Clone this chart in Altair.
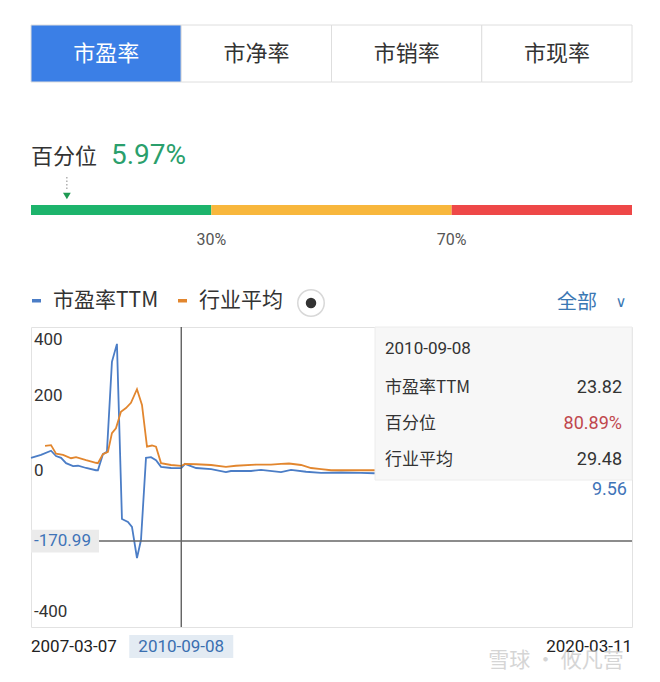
import altair as alt
import pandas as pd

CJK = "Noto Sans CJK SC"
NUM = "Roboto"

# ---------------- data ----------------
tabs = ["市盈率", "市净率", "市销率", "市现率"]
active_tab = "市盈率"

pct_label = "百分位"
pct_value = 5.97
seg_start = [0, 30, 70]
seg_end = [30, 70, 100]
seg_color = ["#1db46c", "#f8b73c", "#ee4848"]
seg_ticks = [30, 70]

series_names = ["市盈率TTM", "行业平均"]
series_colors = ["#4b7dc6", "#e2862e"]
range_label = "全部"

# trading-day index (0 .. 3000) and values
blue_idx = [0, 50, 100, 125, 150, 175, 210, 235, 275, 324, 334, 359, 379, 404, 429,
            454, 484, 504, 529, 549, 574, 599, 624, 649, 699, 750, 769, 824, 899, 973,
            998, 1098, 1148, 1248, 1298, 1373, 1448, 1548, 1647, 1712, 1847, 1997, 2147,
            2296, 2446, 2596, 2745, 2895, 3000]
blue_vals = [51, 59, 70, 56, 51, 37, 29, 30, 24, 18, 18, 61, 67, 307, 355,
             -112, -120, -133, -216, -168, 51, 53, 45, 27, 24, 23.82, 35, 24, 21, 13,
             16, 16, 19, 13, 19, 14, 11, 12, 11, 10, 11, 10, 11,
             10, 10, 9, 10, 9, 9.56]
orange_idx = [70, 100, 125, 160, 200, 225, 275, 324, 334, 359, 384, 404, 424, 449, 474,
              499, 529, 554, 579, 604, 624, 649, 699, 750, 769, 824, 899, 973, 1023, 1123,
              1198, 1248, 1288, 1348, 1398, 1448, 1498, 1597, 1712, 1847, 2097, 2346, 2596,
              2845, 3000]
orange_vals = [83, 85, 62, 59, 50, 53, 45, 38, 37, 61, 67, 117, 130, 174, 184,
               198, 234, 192, 81, 84, 81, 37, 32, 29.48, 35, 34, 32, 27, 30, 33,
               33, 35, 36, 32, 24, 21, 18, 18, 18, 17, 16, 17, 16,
               16, 16]

y_ticks = [-400, -200, 0, 200, 400]
x_grid = [0, 750, 1500, 2250, 3000]
x_dates = ["2007-03-07", "2010-09-08", "2020-03-11"]
x_date_idx = [0, 750, 3000]

cross_idx = 750
cross_date = "2010-09-08"
cross_y = -170.99
cross_pct = "80.89%"
cross_pe = blue_vals[blue_idx.index(cross_idx)]
cross_ind = orange_vals[orange_idx.index(cross_idx)]
last_pe = blue_vals[-1]
watermark = "雪球 · 攸凡营"

W = 601

# ---------------- panel 1: tabs ----------------
tab_df = pd.DataFrame({
    "tab": tabs,
    "fill": ["#3b7fe6" if t == active_tab else "#ffffff" for t in tabs],
    "tc": ["#ffffff" if t == active_tab else "#333333" for t in tabs],
})
tx = alt.X("tab:N", sort=tabs, axis=None, scale=alt.Scale(paddingInner=0, paddingOuter=0))
p1 = alt.layer(
    alt.Chart(tab_df).mark_rect(stroke="#dedede", strokeWidth=1).encode(
        x=tx, fill=alt.Fill("fill:N", scale=None)),
    alt.Chart(tab_df).mark_text(font=CJK, fontSize=22, baseline="middle").encode(
        x=tx, y=alt.value(28.5), text="tab:N", color=alt.Color("tc:N", scale=None)),
).properties(width=W, height=57)

# ---------------- panel 2: percentile bar ----------------
pscale = alt.Scale(domain=[0, 100])
seg_df = pd.DataFrame({"s": seg_start, "e": seg_end, "c": seg_color})
tick_df = pd.DataFrame({"p": seg_ticks, "t": [f"{v}%" for v in seg_ticks]})
mk_df = pd.DataFrame({"p": [pct_value], "lbl": [pct_label], "val": [f"{pct_value:.2f}%"]})

p2 = alt.layer(
    alt.Chart(mk_df).mark_text(font=CJK, fontSize=22, align="left", baseline="middle",
                               color="#333333").encode(
        x=alt.value(0), y=alt.value(75), text="lbl:N"),
    alt.Chart(mk_df).mark_text(font=NUM, fontSize=28, align="left", baseline="middle",
                               color="#2a9f6c").encode(
        x=alt.value(80), y=alt.value(74), text="val:N"),
    alt.Chart(mk_df).mark_rule(strokeDash=[1.5, 2], color="#888888", strokeWidth=1).encode(
        x=alt.X("p:Q", scale=pscale, axis=None), y=alt.value(95), y2=alt.value(107)),
    alt.Chart(mk_df).mark_point(shape="triangle-down", filled=True, color="#1e9a52",
                                size=60, opacity=1).encode(
        x=alt.X("p:Q", scale=pscale, axis=None), y=alt.value(114)),
    alt.Chart(seg_df).mark_rect().encode(
        x=alt.X("s:Q", scale=pscale, axis=None), x2="e:Q",
        y=alt.value(123), y2=alt.value(133), fill=alt.Fill("c:N", scale=None)),
    alt.Chart(tick_df).mark_text(font=NUM, fontSize=16, color="#555555", baseline="middle").encode(
        x=alt.X("p:Q", scale=pscale, axis=None), y=alt.value(158), text="t:N"),
).properties(width=W, height=245)

# ---------------- panel 3: main line chart ----------------
line_df = pd.DataFrame({
    "idx": blue_idx + orange_idx,
    "val": blue_vals + orange_vals,
    "series": [series_names[0]] * len(blue_idx) + [series_names[1]] * len(orange_idx),
})
xs = alt.Scale(domain=[0, 3000], nice=False)
ys = alt.Scale(domain=[-400, 400], nice=False)
X = alt.X("idx:Q", scale=xs, axis=alt.Axis(values=x_grid, grid=True, gridColor="#e6e6e6",
                                            labels=False, ticks=False, domain=False, title=None))
Y = alt.Y("val:Q", scale=ys, axis=alt.Axis(values=y_ticks, grid=True, gridColor="#e6e6e6",
                                            labels=False, ticks=False, domain=False, title=None))

lines = alt.Chart(line_df).mark_line(strokeWidth=1.8, interpolate="linear").encode(
    x=X, y=Y,
    color=alt.Color("series:N", sort=series_names,
                    scale=alt.Scale(domain=series_names, range=series_colors),
                    legend=alt.Legend(orient="none", legendX=-5, legendY=-37, direction="horizontal",
                                      title=None, symbolType="stroke", symbolStrokeWidth=3.5,
                                      symbolSize=81, labelFontSize=21, labelFont=CJK,
                                      labelColor="#333333", labelOffset=6, columnPadding=12,
                                      padding=0)),
    detail="series:N",
)

xq = lambda f: alt.X(f, scale=xs, axis=None)
yq = lambda f: alt.Y(f, scale=ys, axis=None)

cross_df = pd.DataFrame({"idx": [cross_idx], "val": [cross_y], "date": [cross_date],
                         "yl": [f"{cross_y:.2f}"]})
vrule = alt.Chart(cross_df).mark_rule(color="#555555", strokeWidth=1.3).encode(x=xq("idx:Q"))
hrule = alt.Chart(cross_df).mark_rule(color="#666666", strokeWidth=1.5).encode(
    y=yq("val:Q"), x=alt.value(68), x2=alt.value(W))
ybox = alt.Chart(cross_df).mark_point(
    shape="M-1,-0.338L1,-0.338L1,0.338L-1,0.338Z", size=68 * 68, filled=True,
    fill="#ebebeb", opacity=1, strokeWidth=0).encode(x=alt.value(34), y=yq("val:Q"))
ytxt = alt.Chart(cross_df).mark_text(font=NUM, fontSize=17, align="left", baseline="middle",
                                     color="#3f74b8").encode(
    x=alt.value(3), y=yq("val:Q"), text="yl:N")

tip_names_l = ["市盈率TTM", "百分位", "行业平均"]
tip_values_l = [f"{cross_pe:.2f}", cross_pct, f"{cross_ind:.2f}"]
tip_colors_l = ["#333333", "#c0474d", "#333333"]
tip_row_px = [61, 97, 133]
tip_df = pd.DataFrame({"name": tip_names_l, "value": tip_values_l, "vc": tip_colors_l})

tip_box = alt.Chart(cross_df).mark_rect(fill="#f7f7f7", stroke="#ececec", strokeWidth=1).encode(
    x=alt.value(344), x2=alt.value(W), y=alt.value(0), y2=alt.value(153))
tip_date = alt.Chart(cross_df).mark_text(font=NUM, fontSize=17, align="left", baseline="middle",
                                         color="#333333").encode(
    x=alt.value(354), y=alt.value(22), text="date:N")
tip_layers = []
for i, nm in enumerate(tip_names_l):
    base = alt.Chart(tip_df).transform_filter(alt.datum.name == nm)
    tip_layers.append(base.mark_text(font=CJK, fontSize=17, align="left", baseline="middle",
                                     color="#333333").encode(
        x=alt.value(354), y=alt.value(tip_row_px[i]), text="name:N"))
    tip_layers.append(base.mark_text(font=NUM, fontSize=18, align="right", baseline="middle").encode(
        x=alt.value(591), y=alt.value(tip_row_px[i]), text="value:N",
        color=alt.Color("vc:N", scale=None)))

last_df = pd.DataFrame({"idx": [blue_idx[-1]], "val": [last_pe], "t": [f"{last_pe:.2f}"]})
last_txt = alt.Chart(last_df).mark_text(font=NUM, fontSize=18, align="right", baseline="middle",
                                        color="#3f74b8", dx=-5, dy=17).encode(
    x=xq("idx:Q"), y=yq("val:Q"), text="t:N")

ylab_df = pd.DataFrame({"val": y_ticks, "t": [str(v) for v in y_ticks]})
ylab_common = dict(font=NUM, fontSize=17, align="left", baseline="middle", color="#333333")
ylab_top = alt.Chart(ylab_df).transform_filter("datum.val == 400").mark_text(dy=13, **ylab_common).encode(
    x=alt.value(3), y=yq("val:Q"), text="t:N")
ylab_mid = alt.Chart(ylab_df).transform_filter("datum.val == 200 || datum.val == 0").mark_text(
    dy=-6, **ylab_common).encode(x=alt.value(3), y=yq("val:Q"), text="t:N")
ylab_bot = alt.Chart(ylab_df).transform_filter("datum.val == -400").mark_text(dy=-15, **ylab_common).encode(
    x=alt.value(3), y=yq("val:Q"), text="t:N")

date_df = pd.DataFrame({"idx": x_date_idx, "t": x_dates})
date_box = alt.Chart(cross_df).mark_point(
    shape="M-1,-0.221L1,-0.221L1,0.221L-1,0.221Z", size=104 * 104, filled=True,
    fill="#e3ebf3", opacity=1, strokeWidth=0).encode(x=xq("idx:Q"), y=alt.value(319.5))
date_common = dict(font=NUM, fontSize=17, baseline="middle")
d_first = alt.Chart(date_df).transform_filter(f"datum.idx == {x_date_idx[0]}").mark_text(
    align="left", color="#222222", **date_common).encode(x=xq("idx:Q"), y=alt.value(320), text="t:N")
d_cross = alt.Chart(date_df).transform_filter(f"datum.idx == {cross_idx}").mark_text(
    align="center", color="#3a6fb0", **date_common).encode(x=xq("idx:Q"), y=alt.value(320), text="t:N")
d_last = alt.Chart(date_df).transform_filter(f"datum.idx == {x_date_idx[-1]}").mark_text(
    align="right", color="#222222", **date_common).encode(x=xq("idx:Q"), y=alt.value(320), text="t:N")

wm_df = pd.DataFrame({"t": [watermark]})
wm = alt.Chart(wm_df).mark_text(font=CJK, fontSize=21, color="#c8c8c8", opacity=0.75,
                                baseline="middle").encode(
    x=alt.value(525), y=alt.value(334), text="t:N")

ui_df = pd.DataFrame({"t": [range_label], "c": ["∨"]})
ring = alt.Chart(ui_df).mark_point(shape="circle", size=700, filled=False, color="#d8d8d8",
                                   strokeWidth=1.5, opacity=1).encode(x=alt.value(280), y=alt.value(-24))
dot = alt.Chart(ui_df).mark_point(shape="circle", size=110, filled=True, color="#333333",
                                  opacity=1).encode(x=alt.value(280), y=alt.value(-24))
range_txt = alt.Chart(ui_df).mark_text(font=CJK, fontSize=20, color="#3b78b4", baseline="middle",
                                       align="left").encode(x=alt.value(526), y=alt.value(-24), text="t:N")
chev = alt.Chart(ui_df).mark_text(font="DejaVu Sans", fontSize=15, color="#3b78b4",
                                  baseline="middle").encode(x=alt.value(590), y=alt.value(-25), text="c:N")

p3 = alt.layer(
    lines, vrule, hrule, ybox, ytxt, tip_box, tip_date, *tip_layers, last_txt,
    ylab_top, ylab_mid, ylab_bot, date_box, d_first, d_cross, d_last, wm,
    ring, dot, range_txt, chev,
).properties(width=W, height=300, view=alt.ViewBackground(stroke="#e2e2e2", strokeWidth=1))

chart = alt.vconcat(p1, p2, p3, spacing=0, bounds="flush").resolve_scale(
    x="independent", y="independent", color="independent"
).properties(
    padding={"left": 17, "top": 16, "right": 0, "bottom": 0},
    background="#ffffff",
).configure_view(stroke=None)

chart.save("out.html", embed_options={"renderer": "svg", "actions": False})
